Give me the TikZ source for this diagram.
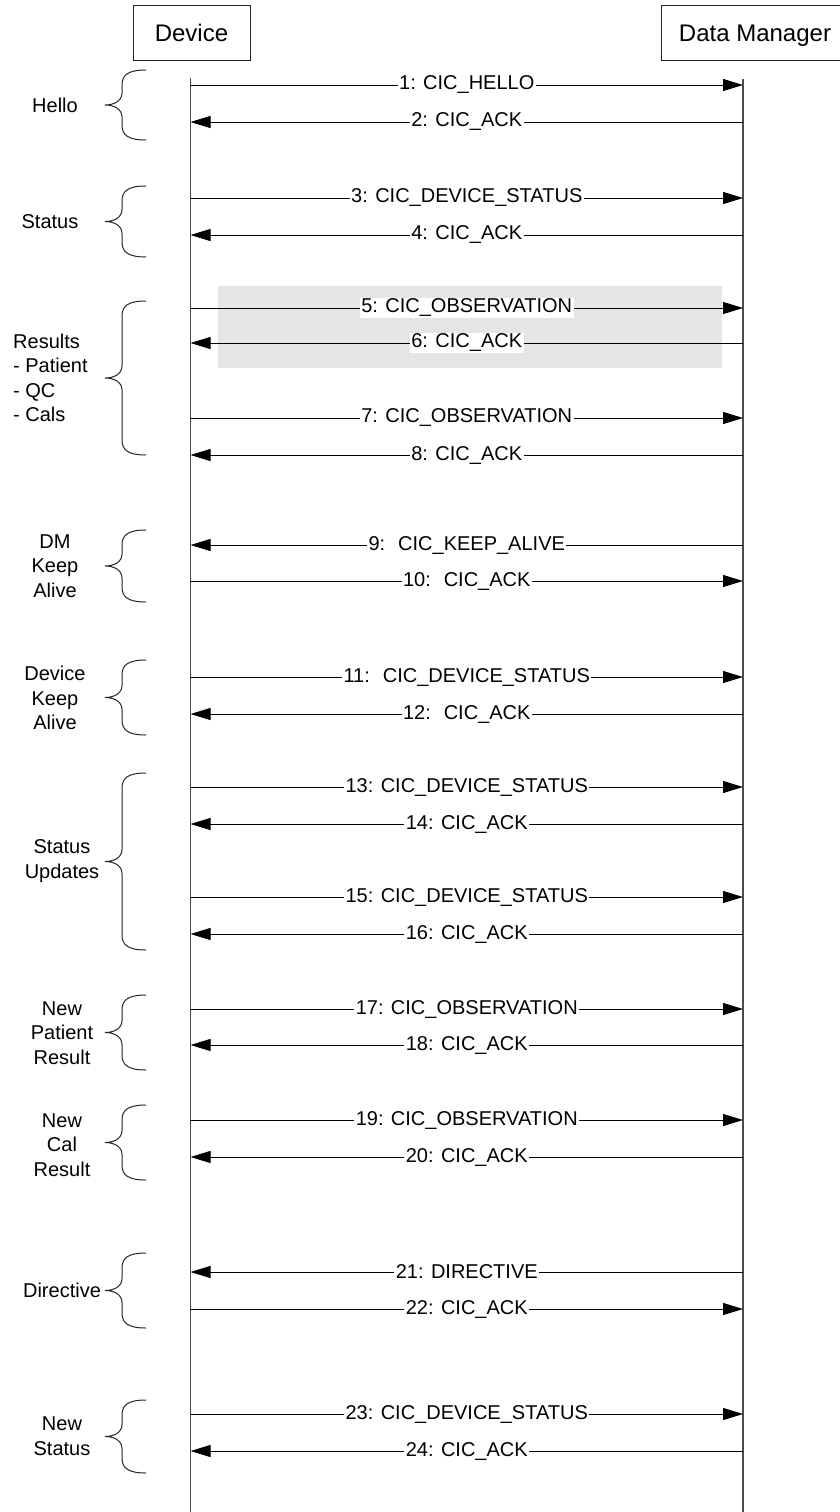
\documentclass[tikz,border=0pt]{standalone}
\usepackage{fontspec}
\setmainfont{Liberation Sans}
\usetikzlibrary{arrows.meta}
\newcommand\cicbrace[2]{%
  \draw[brc] (146,#1) .. controls (128,#1) and (122,#1+5) .. (122,#1+15)
    -- (122,#1/2+#2/2-12) .. controls (122,#1/2+#2/2-4) and (114,#1/2+#2/2) .. (105,#1/2+#2/2)
    .. controls (114,#1/2+#2/2) and (122,#1/2+#2/2+4) .. (122,#1/2+#2/2+12)
    -- (122,#2-15) .. controls (122,#2-5) and (128,#2) .. (146,#2);}
\begin{document}
\begin{tikzpicture}[x=1pt,y=-1pt,
  hdr/.style={draw=black!85, line width=1pt, font=\fontsize{24}{28}\selectfont, minimum height=55pt, inner sep=0pt, text height=17pt, text depth=0pt},
  life/.style={draw=black!70, line width=1.3pt},
  msg/.style={draw=black, line width=1pt},
  tipR/.style={-{Triangle[length=20pt,width=12pt]}},
  lbl/.style={fill=white, inner sep=1.5pt, font=\fontsize{20}{24}\selectfont, text=black},
  grp/.style={font=\fontsize{20}{24.5}\selectfont, align=center, inner sep=0pt},
  brc/.style={draw=black!85, line width=1pt}
]
\useasboundingbox (0,0) rectangle (839,1512);
\fill[white] (0,0) rectangle (839,1512);

% headers
\node[hdr, minimum width=117pt] (dev) at (191.5,33) {Device};
\node[hdr, minimum width=188pt] (dm) at (755,33) {Data Manager};

% highlight box
\fill[black!10] (218,286) rectangle (722,368);

% lifelines
\coordinate (devtop) at (190.5,78);
\coordinate (devbot) at (190.5,1512);
\coordinate (dmtop) at (743,79);
\coordinate (dmbot) at (743,1512);
\draw[life] (devtop) -- (devbot);
\draw[life] (dmtop) -- (dmbot);

% messages
\foreach \n/\y/\dir/\txt in {
  1/85/1/{1: CIC\_HELLO},
  2/122/0/{2: CIC\_ACK},
  3/198/1/{3: CIC\_DEVICE\_STATUS},
  4/235/0/{4: CIC\_ACK},
  5/308/1/{5: CIC\_OBSERVATION},
  6/343/0/{6: CIC\_ACK},
  7/418/1/{7: CIC\_OBSERVATION},
  8/455/0/{8: CIC\_ACK},
  9/545/0/{9:~ CIC\_KEEP\_ALIVE},
  10/581/1/{10:~ CIC\_ACK},
  11/677/1/{11:~ CIC\_DEVICE\_STATUS},
  12/714/0/{12:~ CIC\_ACK},
  13/787/1/{13: CIC\_DEVICE\_STATUS},
  14/824/0/{14: CIC\_ACK},
  15/897/1/{15: CIC\_DEVICE\_STATUS},
  16/934/0/{16: CIC\_ACK},
  17/1009/1/{17: CIC\_OBSERVATION},
  18/1045/0/{18: CIC\_ACK},
  19/1120/1/{19: CIC\_OBSERVATION},
  20/1157/0/{20: CIC\_ACK},
  21/1272/0/{21: DIRECTIVE},
  22/1309/1/{22: CIC\_ACK},
  23/1414/1/{23: CIC\_DEVICE\_STATUS},
  24/1451/0/{24: CIC\_ACK}}{
  \coordinate (a\n) at (190.5,\y);
  \coordinate (b\n) at (743,\y);
  \ifnum\dir=1
    \draw[msg,tipR] (a\n) -- node[lbl] (m\n) {\txt} (b\n);
  \else
    \draw[msg,tipR] (b\n) -- node[lbl] (m\n) {\txt} (a\n);
  \fi
}

% group braces
\cicbrace{70}{140}
\cicbrace{186}{257}
\cicbrace{301}{455}
\cicbrace{530}{602}
\cicbrace{660}{735}
\cicbrace{773}{950}
\cicbrace{995}{1070}
\cicbrace{1105}{1180}
\cicbrace{1253}{1328}
\cicbrace{1400}{1473}

% group labels
\node[grp] (g1) at (55,105) {Hello};
\node[grp] (g2) at (50,222) {Status};
\node[grp, align=left, anchor=west] (g3) at (13,378) {Results\\- Patient\\- QC\\- Cals};
\node[grp] (g4) at (55,566) {DM\\Keep\\Alive};
\node[grp] (g5) at (55,698) {Device\\Keep\\Alive};
\node[grp] (g6) at (62,861) {Status\\Updates};
\node[grp] (g7) at (62,1033) {New\\Patient\\Result};
\node[grp] (g8) at (62,1145) {New\\Cal\\Result};
\node[grp] (g9) at (62,1290) {Directive};
\node[grp] (g10) at (62,1436) {New\\Status};
\end{tikzpicture}
\end{document}
